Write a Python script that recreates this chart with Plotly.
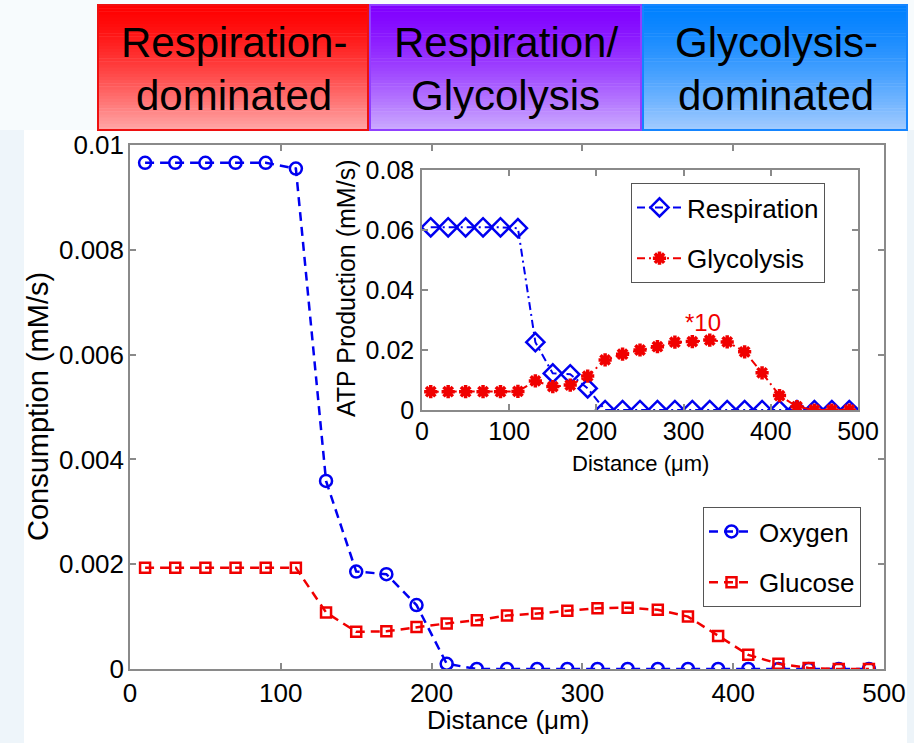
import plotly.graph_objects as go

# ---------------- data ----------------
distance = [10, 30, 50, 70, 90, 110, 130, 150, 170, 190, 210, 230, 250,
            270, 290, 310, 330, 350, 370, 390, 410, 430, 450, 470, 490]

oxygen = [0.00966, 0.00966, 0.00966, 0.00966, 0.00966, 0.00955, 0.00359,
          0.00186, 0.00181, 0.00122, 0.00010, 0, 0, 0, 0, 0, 0, 0, 0, 0,
          0, 0, 0, 0, 0]

glucose = [0.00193, 0.00193, 0.00193, 0.00193, 0.00193, 0.00193, 0.00108,
           0.00071, 0.00072, 0.00080, 0.00087, 0.00093, 0.00102, 0.00106,
           0.00111, 0.00116, 0.00117, 0.00113, 0.00100, 0.00063, 0.00027,
           0.00010, 0.00002, 0, 0]

respiration = [0.0609, 0.0609, 0.0609, 0.0609, 0.0609, 0.0606, 0.0226,
               0.0122, 0.0119, 0.0072, 0, 0, 0, 0, 0, 0, 0, 0, 0, 0, 0,
               0, 0, 0, 0]

glycolysis = [0.0061, 0.0061, 0.0061, 0.0061, 0.0061, 0.0062, 0.0097,
              0.0078, 0.0083, 0.0113, 0.0167, 0.0186, 0.0200, 0.0211,
              0.0226, 0.0228, 0.0233, 0.0227, 0.0194, 0.0124, 0.0048,
              0.0011, 0, 0, 0]

main_yticks = [0, 0.002, 0.004, 0.006, 0.008, 0.01]
main_yticktext = ["0", "0.002", "0.004", "0.006", "0.008", "0.01"]
inset_yticks = [0, 0.02, 0.04, 0.06, 0.08]
inset_yticktext = ["0", "0.02", "0.04", "0.06", "0.08"]
x_ticks = [0, 100, 200, 300, 400, 500]

region_labels = [("Respiration-", "dominated"),
                 ("Respiration/", "Glycolysis"),
                 ("Glycolysis-", "dominated")]

# ---------------- styling ----------------
W, H = 914, 743
FONT = "Liberation Sans, Arial, sans-serif"
BLUE = "#0000f0"
RED = "#f00000"
GRAY = "#8a8a8a"


def fx(px):
    return px / W


def fy(py):
    return 1 - py / H


fig = go.Figure()

fig.add_trace(go.Scatter(
    x=distance, y=oxygen, name="Oxygen", mode="lines+markers",
    xaxis="x", yaxis="y", legend="legend", legendgroup="o",
    line=dict(color=BLUE, width=2.5, dash="9px,6px"),
    marker=dict(symbol="circle-open", size=12, color=BLUE,
                line=dict(width=2.5, color=BLUE)),
))
fig.add_trace(go.Scatter(
    x=distance, y=glucose, name="Glucose", mode="lines+markers",
    xaxis="x", yaxis="y", legend="legend", legendgroup="g",
    line=dict(color=RED, width=2.5, dash="9px,6px"),
    marker=dict(symbol="square-open", size=10, color=RED,
                line=dict(width=2.5, color=RED)),
))
fig.add_trace(go.Scatter(
    x=distance, y=respiration, name="Respiration", mode="lines+markers",
    xaxis="x2", yaxis="y2", legend="legend2", legendgroup="r",
    line=dict(color=BLUE, width=2, dash="8px,4px,2px,4px"),
    marker=dict(symbol="diamond-open", size=14, color=BLUE,
                line=dict(width=2.5, color=BLUE)),
))
fig.add_trace(go.Scatter(
    x=distance, y=glycolysis, name="Glycolysis", mode="lines+markers",
    xaxis="x2", yaxis="y2", legend="legend2", legendgroup="y",
    line=dict(color=RED, width=2, dash="8px,4px,2px,4px"),
    marker=dict(symbol="asterisk", size=11, color=RED,
                line=dict(width=3.5, color=RED)),
))

axis_common = dict(
    showline=True, linecolor=GRAY, linewidth=1.5, mirror="allticks",
    ticks="inside", ticklen=6, tickcolor=GRAY, tickwidth=1.5,
    showgrid=False, zeroline=False, automargin=False,
)

fig.update_layout(
    template="none",
    width=W, height=H,
    margin=dict(l=0, r=0, t=0, b=0, pad=0),
    paper_bgcolor="#f7fbfd",
    plot_bgcolor="white",
    font=dict(family=FONT, color="black"),
    xaxis=dict(axis_common, domain=[fx(130), fx(884)], range=[0, 500],
               tickvals=x_ticks, anchor="y", ticklabelstandoff=0,
               tickfont=dict(family=FONT, size=26, color="black")),
    yaxis=dict(axis_common, domain=[fy(669), fy(145)], range=[0, 0.01],
               tickvals=main_yticks, ticktext=main_yticktext, anchor="x",
               ticklabelstandoff=-1,
               tickfont=dict(family=FONT, size=26, color="black")),
    xaxis2=dict(axis_common, domain=[fx(422), fx(858)], range=[0, 500],
                tickvals=x_ticks, anchor="y2", ticklabelstandoff=-2,
                tickfont=dict(family=FONT, size=25, color="black")),
    yaxis2=dict(axis_common, domain=[fy(410), fy(170)], range=[0, 0.08],
                tickvals=inset_yticks, ticktext=inset_yticktext, anchor="x2",
                ticklabelstandoff=1,
                tickfont=dict(family=FONT, size=25, color="black")),
    legend=dict(x=fx(703), y=fy(507), xanchor="left", yanchor="top",
                bgcolor="white", bordercolor="#555555", borderwidth=1,
                font=dict(family=FONT, size=26, color="black"),
                traceorder="grouped", tracegroupgap=14, itemwidth=45),
    legend2=dict(x=fx(631), y=fy(183), xanchor="left", yanchor="top",
                 bgcolor="white", bordercolor="#555555", borderwidth=1,
                 font=dict(family=FONT, size=26, color="black"),
                 traceorder="grouped", tracegroupgap=14, itemwidth=45),
    showlegend=True,
)

# ---------------- background panels ----------------
shapes = []
shapes.append(dict(type="rect", xref="paper", yref="paper", layer="below",
                   x0=fx(24), x1=fx(907), y0=0, y1=fy(130),
                   fillcolor="white", line=dict(width=0)))
shapes.append(dict(type="rect", xref="paper", yref="paper", layer="below",
                   x0=0, x1=fx(24), y0=0, y1=fy(130),
                   fillcolor="#eef5fa", line=dict(width=0)))
shapes.append(dict(type="rect", xref="paper", yref="paper", layer="below",
                   x0=fx(907), x1=1, y0=0, y1=fy(130),
                   fillcolor="#edf4f9", line=dict(width=0)))

boxes = [
    (98, 368, (255, 0, 0), (255, 168, 168), "#ee1010"),
    (370, 641, (128, 0, 255), (204, 172, 255), "#9040ff"),
    (643, 907, (0, 128, 255), (164, 204, 255), "#1585ff"),
]
top, bottom = 5, 130
n = 40
for (x0, x1, c0, c1, border) in boxes:
    for i in range(n):
        t = (i + 0.5) / n
        tt = t ** 1.4
        col = tuple(round(c0[k] + (c1[k] - c0[k]) * tt) for k in range(3))
        ya = top + (bottom - top) * i / n
        yb = top + (bottom - top) * (i + 1) / n + 0.6
        shapes.append(dict(type="rect", xref="paper", yref="paper",
                           layer="below", x0=fx(x0), x1=fx(x1),
                           y0=fy(min(yb, bottom)), y1=fy(ya),
                           fillcolor="rgb(%d,%d,%d)" % col,
                           line=dict(width=0)))
    shapes.append(dict(type="rect", xref="paper", yref="paper", layer="below",
                       x0=fx(x0), x1=fx(x1), y0=fy(bottom), y1=fy(top),
                       fillcolor="rgba(0,0,0,0)",
                       line=dict(width=2, color=border)))
fig.update_layout(shapes=shapes)

# ---------------- text ----------------
ann = []
centers = [234, 506, 776]
for (l1, l2), cx in zip(region_labels, centers):
    ann.append(dict(text=l1, x=fx(cx), y=fy(43), xref="paper", yref="paper",
                    xanchor="center", yanchor="middle", showarrow=False,
                    font=dict(family=FONT, size=42, color="black")))
    ann.append(dict(text=l2, x=fx(cx), y=fy(96), xref="paper", yref="paper",
                    xanchor="center", yanchor="middle", showarrow=False,
                    font=dict(family=FONT, size=42, color="black")))

ann.append(dict(text="Consumption (mM/s)", textangle=-90, x=fx(38), y=fy(407),
                xref="paper", yref="paper", xanchor="center", yanchor="middle",
                showarrow=False, font=dict(family=FONT, size=29)))
ann.append(dict(text="Distance (\u03bcm)", x=fx(508), y=fy(720),
                xref="paper", yref="paper", xanchor="center", yanchor="middle",
                showarrow=False, font=dict(family=FONT, size=26)))
ann.append(dict(text="ATP Production (mM/s)", textangle=-90, x=fx(346),
                y=fy(289), xref="paper", yref="paper", xanchor="center",
                yanchor="middle", showarrow=False,
                font=dict(family=FONT, size=25)))
ann.append(dict(text="Distance (\u03bcm)", x=fx(640), y=fy(463),
                xref="paper", yref="paper", xanchor="center", yanchor="middle",
                showarrow=False, font=dict(family=FONT, size=22)))
ann.append(dict(text="*10", x=322, y=0.0293, xref="x2", yref="y2",
                xanchor="center", yanchor="middle", showarrow=False,
                font=dict(family=FONT, size=24, color=RED)))
fig.update_layout(annotations=ann)

fig.write_html("out.html")
